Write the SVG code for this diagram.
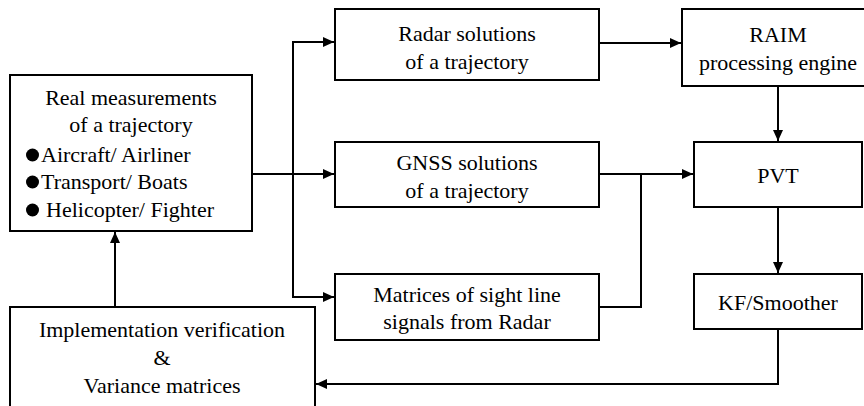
<svg xmlns="http://www.w3.org/2000/svg" width="864" height="406" viewBox="0 0 864 406">
<defs>
<marker id="ah" markerWidth="12" markerHeight="10" refX="11" refY="5" orient="auto" markerUnits="userSpaceOnUse">
<path d="M0,0 L11,5 L0,10 Z" fill="#000"/>
</marker>
</defs>
<rect width="864" height="406" fill="#fff"/>
<g id="connectors" fill="none" stroke="#000" stroke-width="2">
<path d="M115,307 V232" marker-end="url(#ah)"/>
<path d="M252,174 H334" marker-end="url(#ah)"/>
<path d="M293,174 V42 H334" marker-end="url(#ah)"/>
<path d="M293,174 V297 H334" marker-end="url(#ah)"/>
<path d="M599,43 H681" marker-end="url(#ah)"/>
<path d="M599,174 H693" marker-end="url(#ah)"/>
<path d="M599,307 H641 V174"/>
<path d="M778,86 V141" marker-end="url(#ah)"/>
<path d="M778,207 V273" marker-end="url(#ah)"/>
<path d="M778,329 V384 H316" marker-end="url(#ah)"/>
</g>
<g font-family="Liberation Serif" font-size="22" text-anchor="middle" fill="#000">
<g id="real">
<rect x="10" y="75" width="242" height="156" fill="#fff" stroke="#000" stroke-width="2"/>
<text x="131" y="105">Real measurements</text>
<text x="131" y="132">of a trajectory</text>
<circle cx="32.5" cy="155" r="6.5"/>
<circle cx="32.5" cy="182" r="6.5"/>
<circle cx="32.5" cy="210" r="6.5"/>
<text x="41" y="162" text-anchor="start">Aircraft/ Airliner</text>
<text x="41" y="189" text-anchor="start">Transport/ Boats</text>
<text x="46" y="217" text-anchor="start">Helicopter/ Fighter</text>
</g>
<g id="impl">
<rect x="10" y="307" width="305" height="110" fill="#fff" stroke="#000" stroke-width="2"/>
<text x="162" y="337">Implementation verification</text>
<text x="162" y="365">&amp;</text>
<text x="162" y="393">Variance matrices</text>
</g>
<g id="radar">
<rect x="335" y="9" width="264" height="71" fill="#fff" stroke="#000" stroke-width="2"/>
<text x="467" y="41">Radar solutions</text>
<text x="467" y="69">of a trajectory</text>
</g>
<g id="gnss">
<rect x="335" y="142" width="264" height="65" fill="#fff" stroke="#000" stroke-width="2"/>
<text x="467" y="170">GNSS solutions</text>
<text x="467" y="198">of a trajectory</text>
</g>
<g id="matrices">
<rect x="335" y="274" width="264" height="66" fill="#fff" stroke="#000" stroke-width="2"/>
<text x="467" y="302">Matrices of sight line</text>
<text x="467" y="329">signals from Radar</text>
</g>
<g id="raim">
<rect x="682" y="9" width="190" height="77" fill="#fff" stroke="#000" stroke-width="2"/>
<text x="778" y="42">RAIM</text>
<text x="778" y="70">processing engine</text>
</g>
<g id="pvt">
<rect x="694" y="142" width="168" height="65" fill="#fff" stroke="#000" stroke-width="2"/>
<text x="778" y="183">PVT</text>
</g>
<g id="kf">
<rect x="694" y="274" width="168" height="55" fill="#fff" stroke="#000" stroke-width="2"/>
<text x="778" y="310">KF/Smoother</text>
</g>
</g>
</svg>
